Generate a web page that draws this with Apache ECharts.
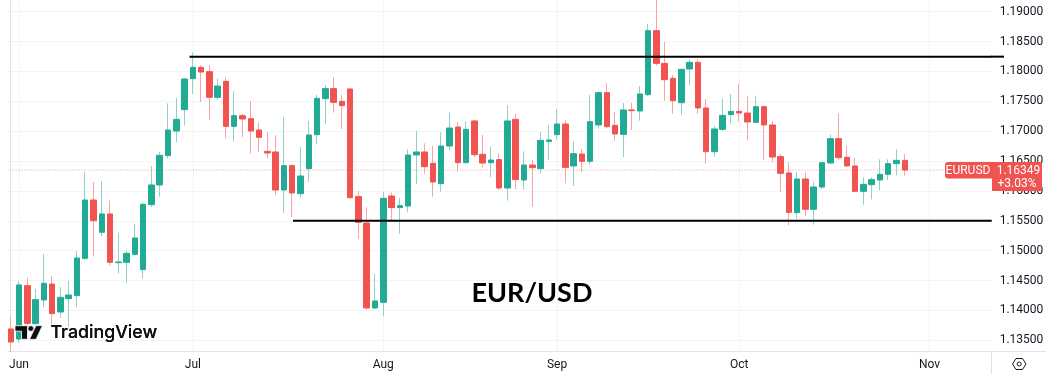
<!DOCTYPE html>
<html>
<head>
<meta charset="utf-8">
<style>html,body{margin:0;padding:0;background:#fff}#c{width:1050px;height:388px}</style>
<script src="https://cdn.jsdelivr.net/npm/echarts@6/dist/echarts.min.js"></script>
</head>
<body>
<div id="c"></div>
<script>
const categories = [
"May 30",
"Jun 2","Jun 3","Jun 4","Jun 5","Jun 6","Jun 9","Jun 10","Jun 11","Jun 12","Jun 13","Jun 16","Jun 17","Jun 18","Jun 19","Jun 20","Jun 23","Jun 24","Jun 25","Jun 26","Jun 27","Jun 30",
"Jul 1","Jul 2","Jul 3","Jul 4","Jul 7","Jul 8","Jul 9","Jul 10","Jul 11","Jul 14","Jul 15","Jul 16","Jul 17","Jul 18","Jul 21","Jul 22","Jul 23","Jul 24","Jul 25","Jul 28","Jul 29","Jul 30","Jul 31",
"Aug 1","Aug 4","Aug 5","Aug 6","Aug 7","Aug 8","Aug 11","Aug 12","Aug 13","Aug 14","Aug 15","Aug 18","Aug 19","Aug 20","Aug 21","Aug 22","Aug 25","Aug 26","Aug 27","Aug 28","Aug 29",
"Sep 1","Sep 2","Sep 3","Sep 4","Sep 5","Sep 8","Sep 9","Sep 10","Sep 11","Sep 12","Sep 15","Sep 16","Sep 17","Sep 18","Sep 19","Sep 22","Sep 23","Sep 24","Sep 25","Sep 26","Sep 29","Sep 30",
"Oct 1","Oct 2","Oct 3","Oct 6","Oct 7","Oct 8","Oct 9","Oct 10","Oct 13","Oct 14","Oct 15","Oct 16","Oct 17","Oct 20","Oct 21","Oct 22","Oct 23","Oct 24","Oct 27","Oct 28","Oct 29","Oct 30","Oct 31",
"Nov 3","Nov 4","Nov 5","Nov 6","Nov 7","Nov 10","Nov 11","Nov 12"
];
const opens = [1.13690,1.13523,1.14416,1.13780,1.14176,1.14443,1.13975,1.14198,1.14248,1.14873,1.15849,1.15308,1.15615,1.14800,1.14806,1.14940,1.14683,1.15771,1.16100,1.16591,1.17003,1.17360,1.17879,1.18068,1.17996,1.17567,1.17834,1.17081,1.17260,1.17210,1.17020,1.16663,1.16652,1.16016,1.16423,1.15955,1.16373,1.16942,1.17544,1.17712,1.17500,1.17706,1.15905,1.15464,1.14042,1.14137,1.15916,1.15721,1.15748,1.16602,1.16652,1.16462,1.16122,1.16752,1.17070,1.16473,1.17171,1.16613,1.16473,1.16524,1.16050,1.17198,1.16183,1.16434,1.16373,1.16830,1.16942,1.17120,1.16418,1.16618,1.16496,1.17104,1.17645,1.17098,1.16947,1.17355,1.17338,1.17611,1.18682,1.18135,1.17884,1.17477,1.18041,1.18152,1.17388,1.16657,1.17031,1.17277,1.17332,1.17304,1.17148,1.17410,1.17104,1.16574,1.16301,1.15637,1.16200,1.15693,1.16066,1.16468,1.16875,1.16563,1.16418,1.15994,1.16105,1.16183,1.16278,1.16457,1.16512];
const closes = [1.13473,1.14427,1.13785,1.14181,1.14455,1.13947,1.14220,1.14259,1.14878,1.15849,1.15503,1.15615,1.14806,1.14811,1.14956,1.15213,1.15776,1.16100,1.16596,1.17020,1.17198,1.17873,1.18068,1.17990,1.17567,1.17756,1.17081,1.17260,1.17204,1.17003,1.16897,1.16635,1.16016,1.16423,1.15966,1.16250,1.16936,1.17550,1.17712,1.17483,1.17427,1.15888,1.15475,1.14042,1.14159,1.15877,1.15721,1.15754,1.16602,1.16652,1.16406,1.16150,1.16752,1.17053,1.16473,1.17031,1.16607,1.16468,1.16518,1.16050,1.17171,1.16189,1.16434,1.16390,1.16847,1.16853,1.17120,1.16395,1.16624,1.16496,1.17159,1.17645,1.17076,1.16953,1.17355,1.17343,1.17622,1.18682,1.18135,1.17862,1.17511,1.18035,1.18152,1.17388,1.16657,1.17037,1.17265,1.17332,1.17304,1.17154,1.17410,1.17104,1.16568,1.16295,1.15642,1.16200,1.15693,1.16066,1.16473,1.16875,1.16557,1.16418,1.15994,1.16111,1.16189,1.16278,1.16457,1.16512,1.16349];
const highs = [1.13908,1.14494,1.14549,1.14360,1.14945,1.14577,1.14393,1.14494,1.14996,1.16323,1.16150,1.16161,1.15838,1.15302,1.14996,1.15447,1.15815,1.16418,1.16652,1.17466,1.17555,1.17890,1.18314,1.18107,1.18107,1.17884,1.17901,1.17667,1.17299,1.17505,1.17148,1.16987,1.16931,1.17232,1.16451,1.16736,1.17171,1.17611,1.17767,1.17901,1.17611,1.17717,1.15999,1.15726,1.14611,1.15977,1.15977,1.15877,1.16697,1.17003,1.16797,1.16758,1.16981,1.17310,1.17148,1.17165,1.17182,1.16936,1.16747,1.16630,1.17433,1.17288,1.16663,1.16518,1.16987,1.17098,1.17371,1.17182,1.16825,1.16697,1.17606,1.17667,1.17801,1.17321,1.17472,1.17477,1.17756,1.18793,1.19307,1.18492,1.17935,1.18046,1.18202,1.18202,1.17539,1.17087,1.17550,1.17622,1.17795,1.17594,1.17589,1.17416,1.17171,1.16618,1.16485,1.16312,1.16306,1.16150,1.16485,1.16947,1.17293,1.16758,1.16552,1.16228,1.16228,1.16529,1.16529,1.16697,1.16618];
const lows = [1.13311,1.13462,1.13702,1.13757,1.14053,1.13774,1.13880,1.13730,1.14059,1.14845,1.14901,1.15247,1.14750,1.14616,1.14466,1.14917,1.14538,1.15732,1.15905,1.16546,1.16819,1.17092,1.17622,1.17488,1.17193,1.17522,1.16881,1.16825,1.16903,1.16624,1.16652,1.16546,1.15932,1.15631,1.15564,1.15888,1.16150,1.16786,1.17120,1.17310,1.17037,1.15871,1.15196,1.14014,1.14025,1.13902,1.15497,1.15286,1.15648,1.16111,1.16289,1.15905,1.15988,1.16685,1.16323,1.16462,1.16568,1.16395,1.16234,1.16011,1.15838,1.16027,1.16016,1.15737,1.16295,1.16518,1.16858,1.16128,1.16083,1.16317,1.16440,1.17042,1.17048,1.16836,1.16568,1.17020,1.17176,1.17589,1.18096,1.17511,1.17293,1.17271,1.17767,1.17288,1.16457,1.16574,1.17009,1.17132,1.17159,1.16847,1.17143,1.16518,1.16485,1.15988,1.15425,1.15536,1.15581,1.15436,1.16027,1.16446,1.16518,1.16401,1.15988,1.15771,1.15860,1.16011,1.16183,1.16262,1.16256];
const priceTicks = [1.135,1.14,1.145,1.15,1.155,1.16,1.165,1.17,1.175,1.18,1.185,1.19];
const monthPositions = [1,22,45,66,88,111];
const monthLabels = ["Jun","Jul","Aug","Sep","Oct","Nov"];
const resistance = [[21.6,1.18247],[118.5,1.18247]];
const support = [[34.1,1.15503],[118.5,1.15503]];
const lastPrice = [[-0.5,1.16349],[118.5,1.16349]];
const symbolName = "EURUSD";
const lastPriceLabel = "1.16349";
const changeLabel = "+3.03%";

const GREEN = "#22ab94", RED = "#f05350", GREEN_WICK = "#8fd3c8", RED_WICK = "#f9a5a3";
const FONT = "Roboto, sans-serif";
const TXT = "#131722", LINE = "#e0e3eb", GRID = "#f3f4f6";

const wicks = opens.map((o,i)=>[o,closes[i],lows[i],highs[i]]);
const bodies = opens.map((o,i)=>[o,closes[i],Math.min(o,closes[i]),Math.max(o,closes[i])]);

function hline(data,color,width,type,z){
  return {type:"line",xAxisIndex:1,yAxisIndex:0,data,showSymbol:false,symbol:"none",clip:false,silent:true,z,
    lineStyle:{color,width,type}};
}
const chart = echarts.init(document.getElementById("c"),null,{renderer:"canvas"});
chart.setOption({
  animation:false,
  backgroundColor:"#fff",
  grid:{left:6.6,right:58.3,top:0,height:351.3,containLabel:false},
  xAxis:[
    {type:"category",data:categories,show:false,boundaryGap:true},
    {type:"value",min:-0.5,max:118.5,position:"bottom",
      axisLine:{show:true,onZero:false,lineStyle:{color:LINE}},
      axisTick:{show:false,customValues:monthPositions},
      splitLine:{show:true,lineStyle:{color:GRID}},
      axisLabel:{customValues:monthPositions,margin:8,color:TXT,fontFamily:FONT,fontSize:12,hideOverlap:false,showMinLabel:true,showMaxLabel:true,
        formatter:v=>monthLabels[monthPositions.indexOf(v)]||""}}
  ],
  yAxis:{type:"value",position:"right",min:1.13317,max:1.19195,scale:true,
    axisLine:{show:true,lineStyle:{color:LINE}},
    axisTick:{show:false,customValues:priceTicks},
    splitLine:{show:true,lineStyle:{color:GRID}},
    axisLabel:{customValues:priceTicks,margin:8,color:TXT,fontFamily:FONT,fontSize:12,formatter:v=>v.toFixed(5)}},
  series:[
    hline(lastPrice,"rgba(240,83,80,0.6)",1,[1,2],1),
    {type:"candlestick",name:"wicks",xAxisIndex:0,yAxisIndex:0,data:wicks,barWidth:1,z:2,silent:true,
      itemStyle:{color:GREEN_WICK,color0:RED_WICK,borderColor:GREEN_WICK,borderColor0:RED_WICK,borderWidth:1}},
    {type:"candlestick",name:"EURUSD",xAxisIndex:0,yAxisIndex:0,data:bodies,barWidth:6,z:3,silent:true,
      itemStyle:{color:GREEN,color0:RED,borderColor:GREEN,borderColor0:RED,borderWidth:1}},
    hline(resistance,"#000",2,"solid",4),
    hline(support,"#000",2,"solid",4)
  ]
});
// the resistance line runs on across the price scale; its height comes from the y axis
const resistanceY = chart.convertToPixel({yAxisIndex:0}, resistance[0][1]);
chart.setOption({
  graphic:[
    {type:"rect",z:90,shape:{x:0,y:0,width:8,height:352},style:{fill:"#fff"}},
    {type:"line",z:90,shape:{x1:991.5,y1:351,x2:991.5,y2:374},style:{stroke:LINE,lineWidth:1}},
    {type:"line",z:90,shape:{x1:992,y1:351.5,x2:1046,y2:351.5},style:{stroke:LINE,lineWidth:1}},
    {type:"line",z:90,shape:{x1:991,y1:resistanceY,x2:1004,y2:resistanceY},style:{stroke:"#000",lineWidth:2}},
    {type:"text",z:90,x:532,y:293,style:{text:"EUR/USD",fill:"#000",font:"700 27px Lato, sans-serif",align:"center",verticalAlign:"middle"}},
    // TradingView watermark
    {type:"polygon",z:90,shape:{points:[[15,325.7],[27.5,325.7],[27.5,339.3],[21.5,339.3],[21.5,331.2],[15,331.2]]},style:{fill:"#0f0f0f",stroke:"#fff",lineWidth:0.8}},
    {type:"circle",z:90,shape:{cx:30.8,cy:328.5,r:2.8},style:{fill:"#0f0f0f",stroke:"#fff",lineWidth:0.6}},
    {type:"polygon",z:90,shape:{points:[[36,325.7],[42.3,325.7],[36,339.3],[29.6,339.3]]},style:{fill:"#0f0f0f",stroke:"#fff",lineWidth:0.6}},
    {type:"text",z:90,x:50.5,y:332.5,style:{text:"TradingView",fill:"#0f0f0f",font:"500 17.8px Inter, sans-serif",align:"left",verticalAlign:"middle",stroke:"#fff",lineWidth:1.5}},
    {type:"text",z:91,x:50.5,y:332.5,style:{text:"TradingView",fill:"#0f0f0f",font:"500 17.8px Inter, sans-serif",align:"left",verticalAlign:"middle"}},
    // last-price tag
    {type:"rect",z:95,shape:{x:945,y:162,width:47,height:16.5,r:[3,0,0,3]},style:{fill:RED}},
    {type:"rect",z:95,shape:{x:992,y:162,width:50,height:29,r:[0,2,2,0]},style:{fill:RED}},
    {type:"text",z:96,x:968,y:170.5,style:{text:symbolName,fill:"#fff",font:"12px "+FONT,align:"center",verticalAlign:"middle"}},
    {type:"text",z:96,x:1018.5,y:170.5,style:{text:lastPriceLabel,fill:"#fff",font:"12px "+FONT,align:"center",verticalAlign:"middle"}},
    {type:"text",z:96,x:1017,y:183.5,style:{text:changeLabel,fill:"#fff",font:"12px "+FONT,align:"center",verticalAlign:"middle"}},
    // settings icon
    {type:"polygon",z:90,shape:{points:[[1012.5,364],[1016,358.5],[1022.5,358.5],[1026,364],[1022.5,369.5],[1016,369.5]]},style:{fill:"none",stroke:TXT,lineWidth:1}},
    {type:"circle",z:90,shape:{cx:1019.2,cy:364,r:2},style:{fill:"none",stroke:TXT,lineWidth:1}}
  ]
});
</script>
</body>
</html>
